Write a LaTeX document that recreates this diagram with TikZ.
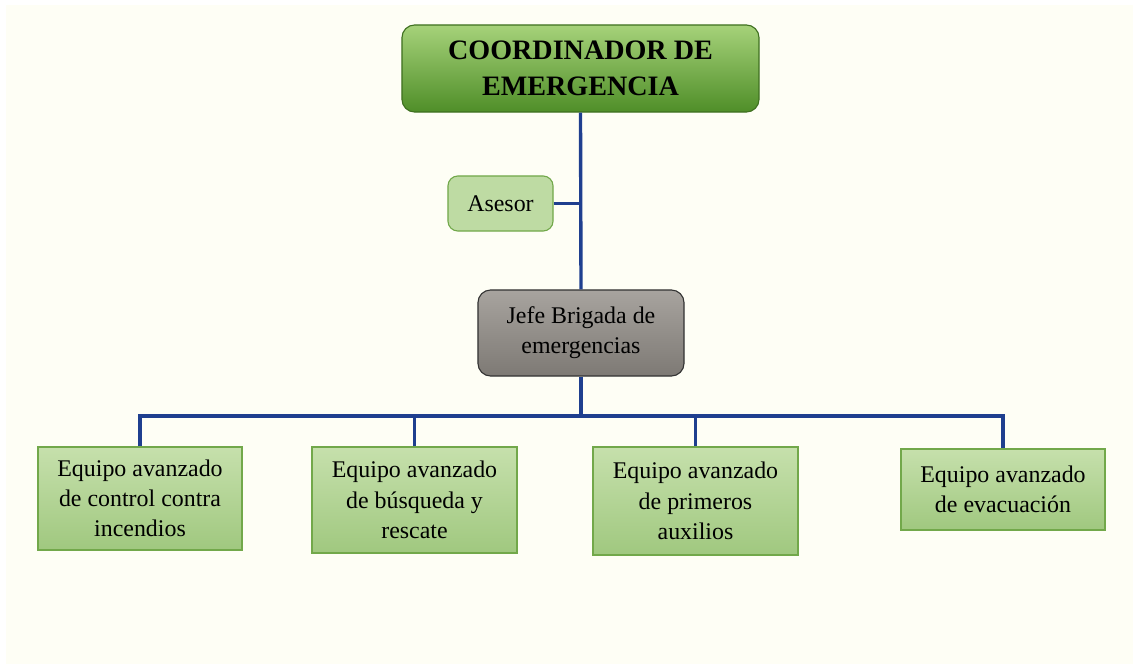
\documentclass[tikz,border=0pt]{standalone}
\usepackage{fontspec}
\setmainfont{Liberation Serif}
\usepackage{tikz}
\usetikzlibrary{positioning,calc}
\definecolor{cream}{HTML}{FEFEF5}
\definecolor{bus}{HTML}{1F3F8F}
\definecolor{leaftop}{HTML}{C6E0AC}
\definecolor{leafbot}{HTML}{A0C87F}
\definecolor{leafline}{HTML}{72A84A}
\definecolor{headtop}{HTML}{A6D27A}
\definecolor{headbot}{HTML}{4F8E28}
\definecolor{headline}{HTML}{3F7020}
\definecolor{graytop}{HTML}{A8A49F}
\definecolor{graybot}{HTML}{7D7974}

\begin{document}
\begin{tikzpicture}[x=0.025cm, y=-0.025cm,
  every node/.style={font=\fontsize{17}{21.5}\selectfont, align=center, inner sep=2pt},
  head/.style={draw=headline, line width=0.8pt, rounded corners=9pt, top color=headtop, bottom color=headbot,
    minimum width=8.925cm, minimum height=2.175cm, font=\fontsize{20}{25.5}\selectfont\bfseries},
  adviser/.style={draw=leafline, line width=0.8pt, rounded corners=7pt, fill=leaftop!80!leafbot,
    minimum width=2.625cm, minimum height=1.375cm},
  chief/.style={draw=black!80, line width=0.8pt, rounded corners=9pt, top color=graytop, bottom color=graybot,
    minimum width=5.15cm, minimum height=2.15cm},
  team/.style={draw=leafline, line width=0.8pt, top color=leaftop, bottom color=leafbot, minimum width=5.1cm},
  link/.style={draw=bus, line width=2.4pt}]
  \useasboundingbox (0,0) rectangle (1133,664);
  \fill[cream] (6,5) rectangle (1133,664);

  % jerarquia superior
  \node[head] (coord) at (580.5,68.5) {COORDINADOR DE\\EMERGENCIA};
  \node[adviser] (asesor) at (500.5,203.5) {Asesor};
  \node[chief] (jefe) at (581,333) {Jefe Brigada de\\emergencias};

  % equipos
  \node[team, minimum height=2.575cm] (t1) at (140,498.5) {Equipo avanzado\\de control contra\\incendios};
  \node[team, minimum height=2.65cm, minimum width=5.125cm] (t2) at (414.5,500) {Equipo avanzado\\de búsqueda y\\rescate};
  \node[team, minimum height=2.7cm, minimum width=5.125cm] (t3) at (695.5,501) {Equipo avanzado\\de primeros\\auxilios};
  \node[team, minimum height=2.025cm] (t4) at (1003,489.5) {Equipo avanzado\\de evacuación};

  \coordinate (bar) at (581,416);

  % conectores
  \draw[link] (coord.south) -- (jefe.north);
  \draw[link] (asesor.east) -- (asesor.east -| coord.south);
  \draw[link] (jefe.south) -- (jefe.south |- bar);
  \draw[link] (t1.north) -- (t1.north |- bar) -- (t4.north |- bar) -- (t4.north);
  \foreach \t in {t2,t3}
    \draw[link] (\t.north) -- (\t.north |- bar);
\end{tikzpicture}
\end{document}
